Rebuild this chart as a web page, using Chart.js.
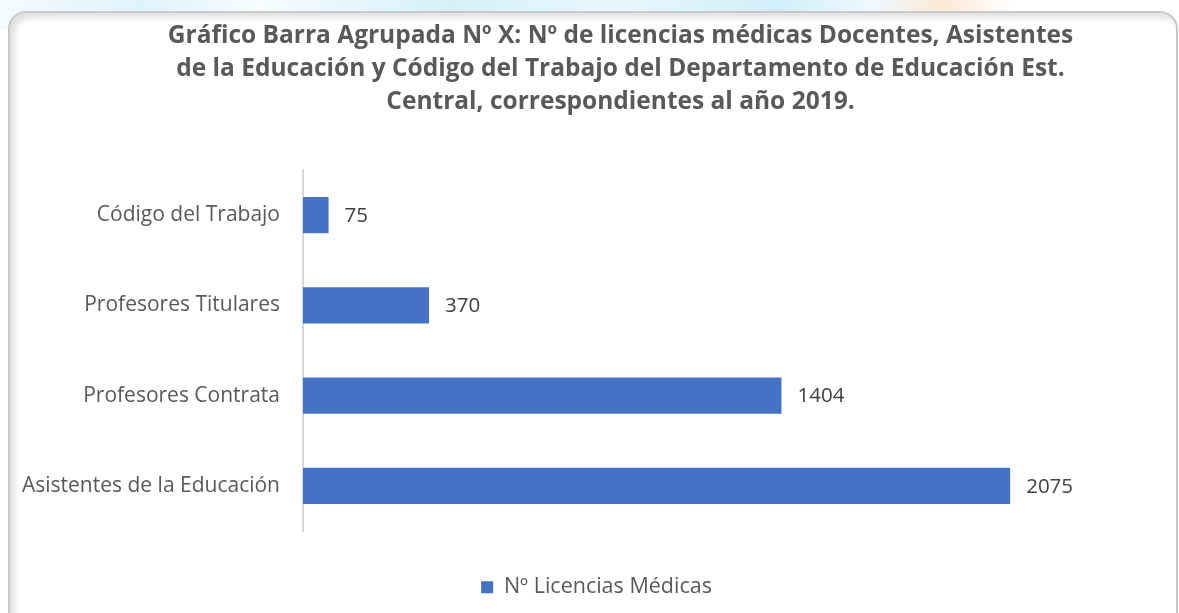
<!DOCTYPE html>
<html>
<head>
<meta charset="utf-8">
<script src="https://cdn.jsdelivr.net/npm/chart.js@4.4.0/dist/chart.umd.min.js"></script>
<style>
  html, body { margin: 0; padding: 0; background: #fff; }
  #wrap { position: relative; width: 1179px; height: 613px; overflow: hidden; }
  /* faint watermark band behind the frame */
  #deco { position: absolute; left: 0; top: 0; width: 1179px; height: 30px;
    background: linear-gradient(90deg, #f4fbfe 0%, #dff3fb 12%, #f6fcff 22%, #d6f0fa 38%, #e8f7fd 52%, #d2eef9 66%, #eef9fe 74%, #fbe9d6 80%, #fff 86%); }
  #frame { position: absolute; left: 8px; top: 11px; width: 1166px; height: 620px;
    border: 2px solid #c9c9c9; border-radius: 18px; background: #fff;
    box-shadow: inset 5px 5px 6px rgba(0,0,0,0.12); }
  canvas { position: absolute; left: 0; top: 0; }
</style>
</head>
<body>
<div id="wrap">
  <div id="deco"></div>
  <div id="frame"></div>
  <canvas id="chart" width="1179" height="613"></canvas>
</div>
<script>
const categories = ['Código del Trabajo', 'Profesores Titulares', 'Profesores Contrata', 'Asistentes de la Educación'];
const licencias = [75, 370, 1404, 2075];
const seriesName = 'Nº Licencias Médicas';
const titleLines = [
  'Gráfico Barra Agrupada Nº X: Nº de licencias médicas Docentes, Asistentes',
  'de la Educación y Código del Trabajo del Departamento de Educación Est.',
  'Central, correspondientes al año 2019.'
];

const FONT = '"Open Sans", sans-serif';

// value labels to the right of each bar
const valueLabels = {
  id: 'valueLabels',
  afterDatasetsDraw(chart) {
    const ctx = chart.ctx;
    ctx.save();
    ctx.font = '20.5px ' + FONT;
    ctx.fillStyle = '#404040';
    ctx.textAlign = 'left';
    ctx.textBaseline = 'middle';
    chart.getDatasetMeta(0).data.forEach((bar, i) => {
      ctx.fillText(String(licencias[i]), bar.x + 16, bar.y + 1);
    });
    ctx.restore();
  }
};

// title and legend are not centred on the same line in the original
const nudge = {
  id: 'nudge',
  afterLayout(chart) {
    chart.titleBlock.left += 38;
    chart.titleBlock.right += 38;
    chart.legend.left += 14;
    chart.legend.right += 14;
  }
};

const ctx = document.getElementById('chart').getContext('2d');
new Chart(ctx, {
  type: 'bar',
  data: {
    labels: categories,
    datasets: [{
      label: seriesName,
      data: licencias,
      backgroundColor: '#4472C4',
      barPercentage: 0.4,
      categoryPercentage: 1.0
    }]
  },
  options: {
    indexAxis: 'y',
    responsive: false,
    animation: false,
    layout: { padding: { left: 10, right: 24, top: 6, bottom: 5 } },
    scales: {
      x: {
        min: 0,
        max: 2500,
        afterFit(scale) { scale.height = 35.5; },
        grid: { display: false, drawTicks: false },
        border: { display: false },
        ticks: { display: false }
      },
      y: {
        afterFit(scale) { scale.width = 293; },
        grid: { display: false, drawTicks: false },
        border: { display: true, color: '#d9d9d9', width: 2 },
        ticks: {
          padding: 23,
          color: '#595959',
          font: { family: FONT, size: 21 }
        }
      }
    },
    plugins: {
      title: {
        display: true,
        text: titleLines,
        color: '#595959',
        font: { family: FONT, size: 24.5, weight: 'bold', lineHeight: 1.347 },
        padding: { top: 14, bottom: 51 }
      },
      legend: {
        display: true,
        position: 'bottom',
        labels: {
          color: '#595959',
          font: { family: FONT, size: 21.5 },
          boxWidth: 12,
          boxHeight: 12,
          padding: 10
        }
      },
      tooltip: { enabled: false }
    }
  },
  plugins: [valueLabels, nudge]
});
</script>
</body>
</html>
